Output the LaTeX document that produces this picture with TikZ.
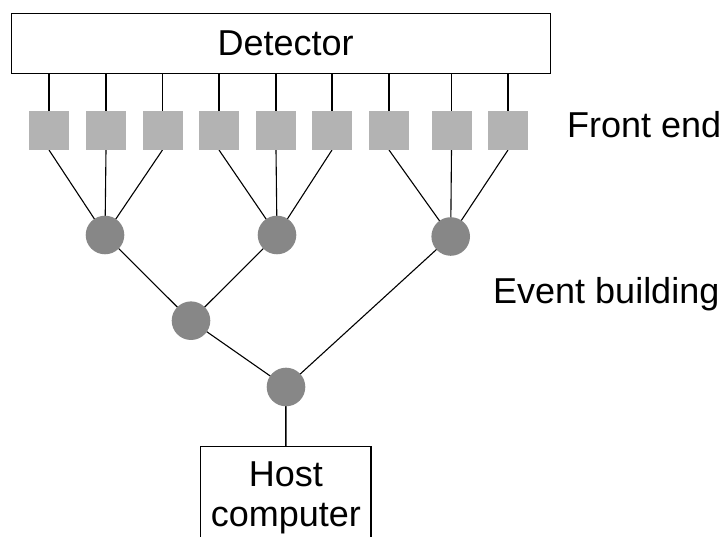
\documentclass[tikz,border=0pt]{standalone}
\usepackage{fontspec}
\setmainfont{Liberation Sans}
\definecolor{febox}{HTML}{B3B3B3}
\definecolor{ebnode}{HTML}{878787}
\begin{document}
\begin{tikzpicture}[x=1pt,y=-1pt,
  every node/.style={font=\fontsize{36}{40}\selectfont},
  wire/.style={line width=1.4pt, black},
  thinwire/.style={line width=1.1pt, black},
  outlinebox/.style={draw, line width=1.4pt, fill=white, inner sep=0pt},
  fechip/.style={rectangle, fill=febox, minimum width=40pt, minimum height=39pt, inner sep=0pt},
  ebnode/.style={circle, fill=ebnode, minimum size=38.6pt, inner sep=0pt},
  label/.style={inner sep=0pt, anchor=base west}]
\useasboundingbox (0,0) rectangle (724,537);
\clip (0,0) rectangle (724,537);

% detector
\node[outlinebox, minimum width=539pt, minimum height=60pt] (det) at (281.2,43.3) {\hspace*{9pt}Detector};

% front-end module positions
\def\fepos{1/49,2/106,3/162.5,4/219,5/276,6/332,7/389,8/451.5,9/508}
\foreach \i/\x in \fepos
  \coordinate (fe\i) at (\x,130.5);

% event building node positions
\coordinate (eb1) at (105,235);
\coordinate (eb2) at (277,235);
\coordinate (eb3) at (450.7,236.5);
\coordinate (eb4) at (191,320.7);
\coordinate (eb5) at (286,387);

% host computer
\node[outlinebox, anchor=north, minimum width=170.3pt, minimum height=102pt, align=center] (host) at (285.8,446) {Host\\computer};

% labels
\node[label] (lfe) at (567,138) {Front end};
\node[label] (leb) at (493,303.3) {Event building};

% detector to front-end links
\foreach \i in {1,...,9}
  \draw[wire] (fe\i |- det.south) -- (fe\i);

% front-end (bottom edge) to event building links
\foreach \s/\t in {1/1,2/1,3/1,4/2,5/2,6/2,7/3,8/3,9/3}
  \draw[thinwire] ([yshift=-19.5pt]fe\s) -- (eb\t);

\draw[thinwire] (eb1) -- (eb4);
\draw[thinwire] (eb2) -- (eb4);
\draw[thinwire] (eb4) -- (eb5);
\draw[thinwire] (eb3) -- (eb5);
\draw[wire] (eb5) -- (host.north);

% modules and builders on top of the links
\foreach \i in {1,...,9}
  \node[fechip] (m\i) at (fe\i) {};
\foreach \i in {1,...,5}
  \node[ebnode] (b\i) at (eb\i) {};
\end{tikzpicture}
\end{document}
